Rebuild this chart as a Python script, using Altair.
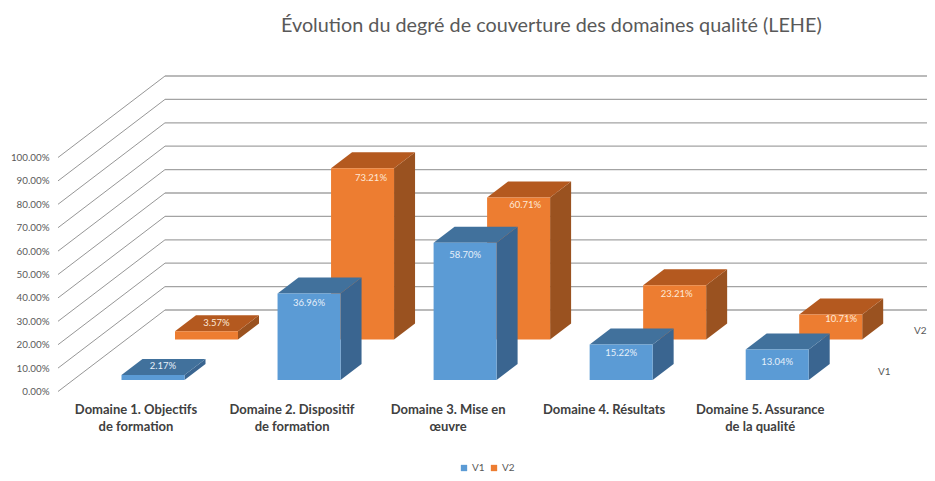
import altair as alt
import pandas as pd

TITLE = "Évolution du degré de couverture des domaines qualité (LEHE)"
CATEGORIES = [
    "Domaine 1. Objectifs\nde formation",
    "Domaine 2. Dispositif\nde formation",
    "Domaine 3. Mise en\nœuvre",
    "Domaine 4. Résultats",
    "Domaine 5. Assurance\nde la qualité",
]
V1 = [2.17, 36.96, 58.70, 15.22, 13.04]
V2 = [3.57, 73.21, 60.71, 23.21, 10.71]
TICKS = [0, 10, 20, 30, 40, 50, 60, 70, 80, 90, 100]

# Projection of the 3D scene (page pixels)
PX = 2.34                      # pixels per percentage point
ZERO_Y = 391.5                 # page y of 0 % on the front edge of the floor
to_v = lambda page_y: (ZERO_Y - page_y) / PX
X_MIN, X_MAX = 8, 927
Y_TOP, Y_BOTTOM = 8, 473
WALL_X0, WALL_X1 = 58, 165
WALL_DV = 81.5 / PX
BAR_W, BAR_DX, BAR_DV = 63, 21, 16 / PX
STEP = 156.05
SERIES = {
    "V1": dict(vals=V1, x0=121.5, base=to_v(380), face="#5b9bd5", top="#41719c", side="#3a6590", text="#e6f0fa",
               nudge_x=[10, 0, 0, 0, 0], nudge_y=[-9, 9.5, 12, 9, 12.5]),
    "V2": dict(vals=V2, x0=175.0, base=to_v(339.5), face="#ed7d31", top="#b4591f", side="#9a5220", text="#fde9d8",
               nudge_x=[10, 8.5, 6.5, 2, 10.5], nudge_y=[-8.5, 10, 8, 9, 4.5]),
}

grid_rows, diag_rows = [], []
for t in TICKS:
    diag_rows += [dict(t=t, x=WALL_X0, v=t), dict(t=t, x=WALL_X1, v=t + WALL_DV)]
    grid_rows += [dict(t=t, x=WALL_X1, v=t + WALL_DV), dict(t=t, x=X_MAX, v=t + WALL_DV)]

x_scale = alt.Scale(domain=[X_MIN, X_MAX], zero=False, nice=False)
y_scale = alt.Scale(domain=[to_v(Y_BOTTOM), to_v(Y_TOP)], zero=False, nice=False)
y_axis = alt.Axis(values=TICKS, labelExpr="format(datum.value / 100, '.2%')", domain=False, ticks=False, grid=False,
                  labelFont="Lato", labelFontSize=9.8, labelColor="#595959", labelPadding=0, offset=-41,
                  labelOverlap=False, title=None)
X = lambda f="x": alt.X(f"{f}:Q", scale=x_scale, axis=None)
Y = lambda f="v": alt.Y(f"{f}:Q", scale=y_scale, axis=y_axis, stack=False)

diag = alt.Chart(pd.DataFrame(diag_rows)).mark_line(color="#8a8a8a", strokeWidth=0.9).encode(
    x=X(), y=Y(), detail="t:N")
grid = alt.Chart(pd.DataFrame(grid_rows)).mark_line(color="#a3a3a3", strokeWidth=1.3).encode(
    x=X(), y=Y(), detail="t:N")

layers = [diag, grid]
fronts = []
for name in ["V2", "V1"]:
    s = SERIES[name]
    side_rows, top_rows, front_rows, label_rows = [], [], [], []
    for i, val in enumerate(s["vals"]):
        x0 = s["x0"] + STEP * i
        x1 = x0 + BAR_W
        base, top = s["base"], s["base"] + val
        front_rows.append(dict(series=name, x=x0, x2=x1, v=base, v2=top))
        side_rows += [dict(i=i, x=x1, v=base, v2=top), dict(i=i, x=x1 + BAR_DX, v=base + BAR_DV, v2=top + BAR_DV)]
        top_rows += [dict(i=i, x=x0, x2=x1, v=top), dict(i=i, x=x0 + BAR_DX, x2=x1 + BAR_DX, v=top + BAR_DV)]
        label_rows.append(dict(x=(x0 + x1) / 2 + s["nudge_x"][i], v=top - s["nudge_y"][i] / PX, label=f"{val:.2f}%"))
    layers.append(alt.Chart(pd.DataFrame(side_rows)).mark_area(color=s["side"]).encode(
        x=X(), y=Y(), y2="v2:Q", detail="i:N"))
    layers.append(alt.Chart(pd.DataFrame(top_rows)).mark_area(color=s["top"], orient="horizontal").encode(
        y=Y(), x=X(), x2="x2:Q", detail="i:N"))
    layers.append(alt.Chart(pd.DataFrame(front_rows)).mark_rect().encode(
        x=X(), x2="x2:Q", y=Y(), y2="v2:Q",
        color=alt.Color("series:N", scale=alt.Scale(domain=["V1", "V2"], range=[SERIES["V1"]["face"], SERIES["V2"]["face"]]),
                        legend=alt.Legend(orient="none", legendX=451, legendY=455, direction="horizontal", title=None,
                                          symbolType="square", symbolSize=40, labelFont="Lato", labelFontSize=10,
                                          labelColor="#595959", columnPadding=4, labelOffset=3))))
    fronts.append(alt.Chart(pd.DataFrame(label_rows)).mark_text(
        font="Lato", fontSize=9.5, color=s["text"]).encode(x=X(), y=Y(), text="label:N"))
layers += fronts

cat_df = pd.DataFrame([dict(x=136 + STEP * i, v=to_v(410), label=c) for i, c in enumerate(CATEGORIES)])
cats = alt.Chart(cat_df).mark_text(font="Lato", fontSize=13, fontWeight="bold", color="#404040",
                                   lineBreak="\n", lineHeight=17, baseline="middle").encode(
    x=X(), y=Y(), text="label:N")
stray = alt.Chart(pd.DataFrame([dict(x=878, v=to_v(372), label="V1"), dict(x=914, v=to_v(331), label="V2")])).mark_text(
    font="Lato", fontSize=10, color="#595959", align="left").encode(x=X(), y=Y(), text="label:N")
layers += [cats, stray]

chart = alt.layer(*layers).resolve_scale(color="shared").properties(
    width=X_MAX - X_MIN, height=Y_BOTTOM - Y_TOP, padding=0, autosize=alt.AutoSizeParams(type="none"),
    title=alt.TitleParams(TITLE, anchor="start", dx=273, dy=28, offset=0, font="Lato", fontSize=19.8,
                          fontWeight="normal", color="#595959"),
).configure_view(stroke=None)

chart.save("out.html", embed_options={"renderer": "svg", "actions": False})
